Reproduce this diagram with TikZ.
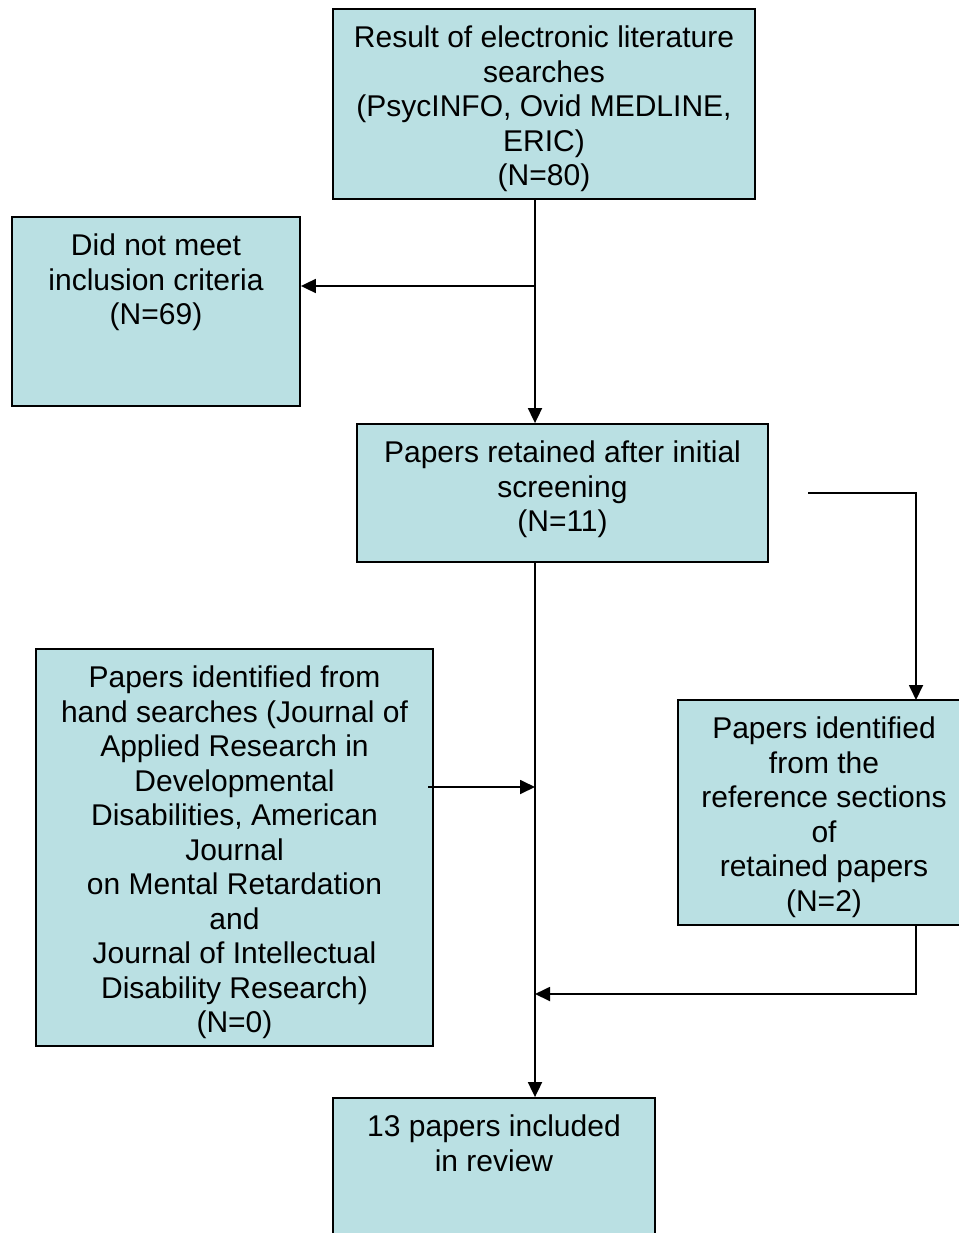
\documentclass[tikz,border=0pt]{standalone}
\usepackage{fontspec}
\setmainfont{Liberation Sans}
\usetikzlibrary{arrows.meta}
\definecolor{boxfill}{RGB}{186,224,227}
\tikzset{
  box/.style={draw=black, line width=1.8pt, fill=boxfill, rectangle, inner sep=0pt},
  txt/.style={anchor=north, align=center, inner sep=0pt, font=\fontsize{30}{34.5}\selectfont},
  conn/.style={line width=1.8pt, draw=black},
  arr/.style={conn, -{Triangle[length=15pt,width=14pt]}}
}
\begin{document}
\begin{tikzpicture}[x=1pt,y=-1pt]
\useasboundingbox (0,0) rectangle (958,1233);
% boxes
\node[box, minimum width=422pt, minimum height=190pt] (b1) at (544,104) {};
\node[box, minimum width=288pt, minimum height=189pt] (b2) at (156,311.5) {};
\node[box, minimum width=411pt, minimum height=138pt] (b3) at (562.5,493) {};
\node[box, minimum width=397pt, minimum height=397pt] (b4) at (234.5,847.5) {};
\node[box, minimum width=292pt, minimum height=225pt] (b5) at (824,812.5) {};
\node[box, minimum width=322pt, minimum height=162pt] (b6) at (494,1179) {};
% texts
\node[txt] (t1) at (544,26) {Result of electronic literature\\searches\\(PsycINFO, Ovid MEDLINE,\\ERIC)\\(N=80)};
\node[txt] (t2) at (156,234) {Did not meet\\inclusion criteria\\(N=69)};
\node[txt] (t3) at (562.5,441) {Papers retained after initial\\screening\\(N=11)};
\node[txt] (t4) at (234.5,666) {Papers identified from\\hand searches (Journal of\\Applied Research in\\Developmental\\Disabilities, American\\Journal\\on Mental Retardation\\and\\Journal of Intellectual\\Disability Research)\\(N=0)};
\node[txt] (t5) at (824,717) {Papers identified\\from the\\reference sections\\of\\retained papers\\(N=2)};
\node[txt] (t6) at (494,1115) {13 papers included\\in review};
% helper coordinates
\coordinate (sp) at (535,0);
\coordinate (j1) at (535,286);
\coordinate (s2) at (808,493);
\coordinate (k1) at (916,700);
\coordinate (k2) at (916,925);
\coordinate (j2) at (535,994);
\coordinate (h1) at (428,787);
% connectors
\draw[arr] (b1.south -| sp) -- (b3.north -| sp);
\draw[arr] (j1) -- (j1 -| b2.east);
\draw[arr] (s2) -| (k1);
\draw[arr] (b3.south -| sp) -- (b6.north -| sp);
\draw[arr] (h1) -- (h1 -| sp);
\draw[arr] (k2) |- (j2);
\end{tikzpicture}
\end{document}
